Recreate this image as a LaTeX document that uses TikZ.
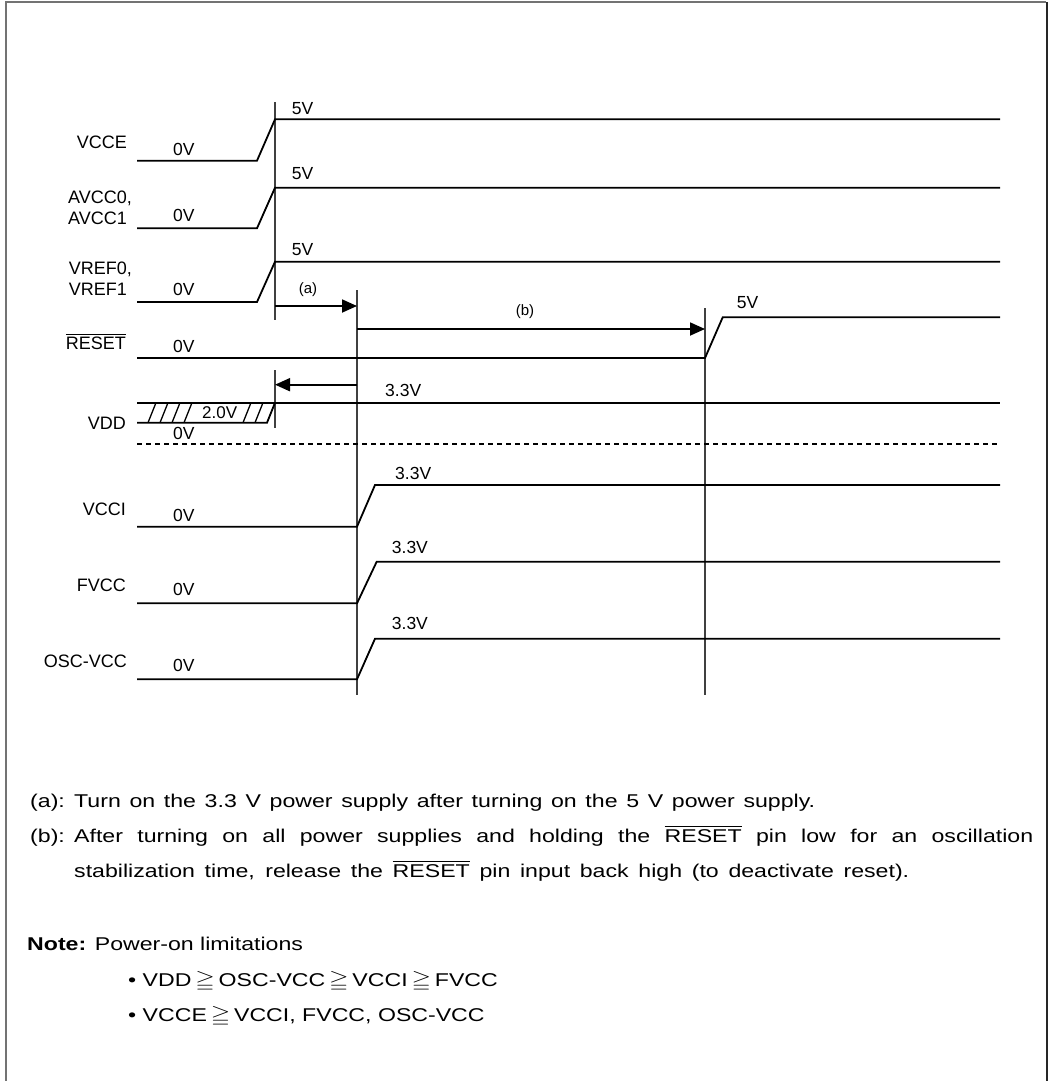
\documentclass[tikz,border=0pt]{standalone}
\usepackage{fontspec}
\setmainfont{Liberation Sans}
\usepackage{amssymb}
\usepackage{graphicx}
\usetikzlibrary{arrows.meta}
\newcommand{\ovl}[1]{\ensuremath{\overline{\hbox{#1}}}}
\newcommand{\tline}[2]{\scalebox{1.25}[1]{\makebox[#1][s]{#2}}}
\newcommand{\tsc}[1]{\scalebox{1.25}[1]{#1}}
\newcommand{\gqq}{\,{\fontsize{20}{20}\selectfont$\geqq$}\,}
\begin{document}
\begin{tikzpicture}[x=1pt,y=-1pt,
  sig/.style={line width=1.8pt, line join=miter},
  guide/.style={line width=1.3pt, draw=black!75},
  lbl/.style={font=\fontsize{18}{21}\selectfont, inner sep=0pt},
  val/.style={font=\fontsize{17.5}{20}\selectfont, inner sep=0pt, anchor=base west},
  small/.style={font=\fontsize{15}{18}\selectfont, inner sep=0pt},
  tarrow/.style={line width=1.8pt, -{Triangle[length=15pt,width=13pt]}},
  hatchline/.style={line width=1.3pt},
  txt/.style={font=\fontsize{18.5}{22}\selectfont, inner sep=0pt, anchor=base west}
]
\useasboundingbox (0,0) rectangle (1049,1081);
% frame
\draw[line width=2pt, black!55] (5.5,1095) -- (5.5,2.5) -- (1046,2.5);
\draw[line width=2pt, black!85] (1046.5,2.5) -- (1046.5,1095);

% guide lines
\draw[guide] (275,102) -- (275,320);
\draw[guide] (275,370) -- (275,428);
\draw[guide] (357,290) -- (357,695);
\draw[guide] (705,308) -- (705,695);

% signals
\draw[sig] (137,160.7) -- (257,160.7) -- (275,119.3) -- (1000,119.3);
\draw[sig] (137,228.3) -- (257,228.3) -- (275,187.7) -- (1000,187.7);
\draw[sig] (137,302) -- (257,302) -- (275,261.7) -- (1000,261.7);
\draw[sig] (137,358) -- (705,358) -- (722.7,317.3) -- (1000,317.3);
\draw[sig] (137,402.7) -- (1000,402.7);
\draw[sig] (137,422.7) -- (267,422.7) -- (275,402.7);
\foreach \b in {148,160,172,184,243,255} \draw[hatchline] (\b,422.7) -- (\b+8,402.7);
\draw[line width=1.5pt, dash pattern=on 5pt off 4pt] (137,444) -- (1000,444);
\draw[sig] (137,526.7) -- (357,526.7) -- (375,485) -- (1000,485);
\draw[sig] (137,603.3) -- (357,603.3) -- (376.7,561.7) -- (1000,561.7);
\draw[sig] (137,679.3) -- (357,679.3) -- (375,638.7) -- (1000,638.7);

% arrows
\coordinate (a0) at (275,306);
\coordinate (a1) at (357,306);
\coordinate (b0) at (357,329);
\coordinate (b1) at (705,329);
\coordinate (c0) at (357,384.7);
\coordinate (c1) at (275,384.7);
\draw[tarrow] (a0) -- (a1);
\draw[tarrow] (b0) -- (b1);
\draw[tarrow] (c0) -- (c1);
\node[small] (la) at (308,290) {(a)};
\node[small] (lb) at (525,312) {(b)};

% signal names
\node[lbl, anchor=east] (nvcce) at (127,142) {VCCE};
\node[lbl, anchor=east, align=left] (navcc) at (132,208) {AVCC0,\\AVCC1};
\node[lbl, anchor=east, align=left] (nvref) at (132,279) {VREF0,\\VREF1};
\node[lbl, anchor=east] (nrst) at (126,341.7) {\ovl{RESET}};
\node[lbl, anchor=east] (nvdd) at (126,423) {VDD};
\node[lbl, anchor=east] (nvcci) at (126,509) {VCCI};
\node[lbl, anchor=east] (nfvcc) at (126,585.7) {FVCC};
\node[lbl, anchor=east] (nosc) at (127,661.7) {OSC-VCC};

% values
\node[val] at (291.7,114) {5V};
\node[val] at (291.7,179) {5V};
\node[val] at (291.7,255) {5V};
\node[val] at (736.7,308) {5V};
\node[val] at (173,155.7) {0V};
\node[val] at (173,221.7) {0V};
\node[val] at (173,295.7) {0V};
\node[val] at (173,352) {0V};
\node[val] at (173,439.3) {0V};
\node[val] at (173,521) {0V};
\node[val] at (173,595) {0V};
\node[val] at (173,671.7) {0V};
\node[val] at (385,396.7) {3.3V};
\node[val] at (395,479) {3.3V};
\node[val] at (391.7,553) {3.3V};
\node[val] at (391.7,629) {3.3V};
\node[val, font=\fontsize{17}{20}\selectfont] at (202,418.7) {2.0V};

% notes
\node[txt] (ka) at (30,807) {\tsc{(a):}};
\node[txt] (ta) at (74,807) {\tline{592.8pt}{Turn on the 3.3 V power supply after turning on the 5 V power supply.}};
\node[txt] (kb) at (30,842) {\tsc{(b):}};
\node[txt] (tb) at (74,842) {\tline{767.2pt}{After turning on all power supplies and holding the \ovl{RESET} pin low for an oscillation}};
\node[txt] (tc) at (74,877) {\tline{668pt}{stabilization time, release the \ovl{RESET} pin input back high (to deactivate reset).}};
\node[txt] (tn) at (27,950) {\tsc{\textbf{Note:} Power-on limitations}};
\node[txt] (t1) at (128,986) {\tsc{\textbullet\ VDD\gqq OSC-VCC\gqq VCCI\gqq FVCC}};
\node[txt] (t2) at (128,1021) {\tsc{\textbullet\ VCCE\gqq VCCI, FVCC, OSC-VCC}};
\end{tikzpicture}
\end{document}
